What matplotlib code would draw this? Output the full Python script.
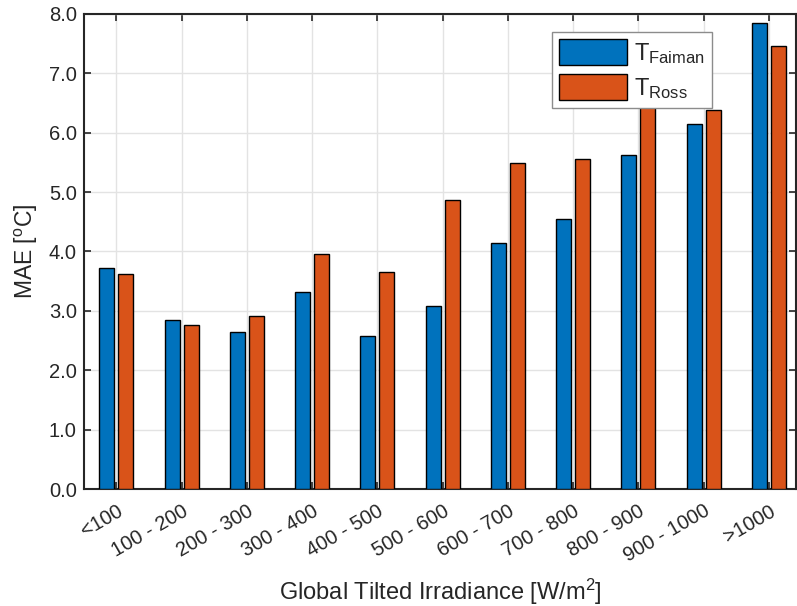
import numpy as np
import matplotlib
matplotlib.use("Agg")
from matplotlib import pyplot as plt

# data
categories = ["<100", "100 - 200", "200 - 300", "300 - 400", "400 - 500",
              "500 - 600", "600 - 700", "700 - 800", "800 - 900",
              "900 - 1000", ">1000"]
mae_faiman = [3.73, 2.84, 2.64, 3.32, 2.58, 3.08, 4.15, 4.55, 5.62, 6.14, 7.85]
mae_ross = [3.62, 2.76, 2.91, 3.95, 3.65, 4.87, 5.49, 5.56, 6.75, 6.38, 7.46]

plt.rcParams["font.family"] = ["Liberation Sans", "DejaVu Sans"]
plt.rcParams["mathtext.fontset"] = "custom"
plt.rcParams["mathtext.rm"] = "Liberation Sans"
plt.rcParams["mathtext.it"] = "Liberation Sans"

txt = "#262626"
blue = "#0072BD"
orange = "#D95319"

fig = plt.figure(figsize=(7.97, 6.06), dpi=100)
ax = fig.add_axes([0.105, 0.193, 0.894, 0.784])

x = np.arange(len(categories))
w = 0.23
ax.bar(x - 0.145, mae_faiman, w, color=blue, edgecolor="black", linewidth=1,
       label=r"T$_{\mathrm{Faiman}}$", zorder=3)
ax.bar(x + 0.145, mae_ross, w, color=orange, edgecolor="black", linewidth=1,
       label=r"T$_{\mathrm{Ross}}$", zorder=3)

ax.set_xlim(-0.5, 10.42)
ax.set_ylim(0, 8)
ax.set_yticks(np.arange(0, 8.1, 1))
ax.set_yticklabels([f"{v:.1f}" for v in np.arange(0, 8.1, 1)])
ax.set_xticks(x)
ax.set_xticklabels(categories, rotation=30, ha="right", rotation_mode="anchor")

ax.grid(True, color="#e3e3e3", linewidth=1, zorder=0)
ax.set_axisbelow(True)
ax.tick_params(direction="in", length=5, width=1.2, colors=txt,
               labelsize=14.5, top=True, right=True, pad=5)
ax.tick_params(axis="x", pad=9)
for s in ax.spines.values():
    s.set_color(txt)
    s.set_linewidth(1.5)

ax.set_ylabel(r"MAE [$^{\mathrm{o}}$C]", fontsize=16.5, color=txt, labelpad=6)
ax.set_xlabel(r"Global Tilted Irradiance [W/m$^{2}$]", fontsize=17,
              color=txt, labelpad=8)

leg = ax.legend(loc="upper right", bbox_to_anchor=(0.882, 0.962),
                fontsize=17, fancybox=False, framealpha=1,
                edgecolor="#8c8c8c", handlelength=2.9, handleheight=1.3,
                borderpad=0.3, labelspacing=0.35, handletextpad=0.3,
                borderaxespad=0)
leg.get_frame().set_linewidth(1)
for t in leg.get_texts():
    t.set_color(txt)

fig.savefig("out.png", dpi=100)
